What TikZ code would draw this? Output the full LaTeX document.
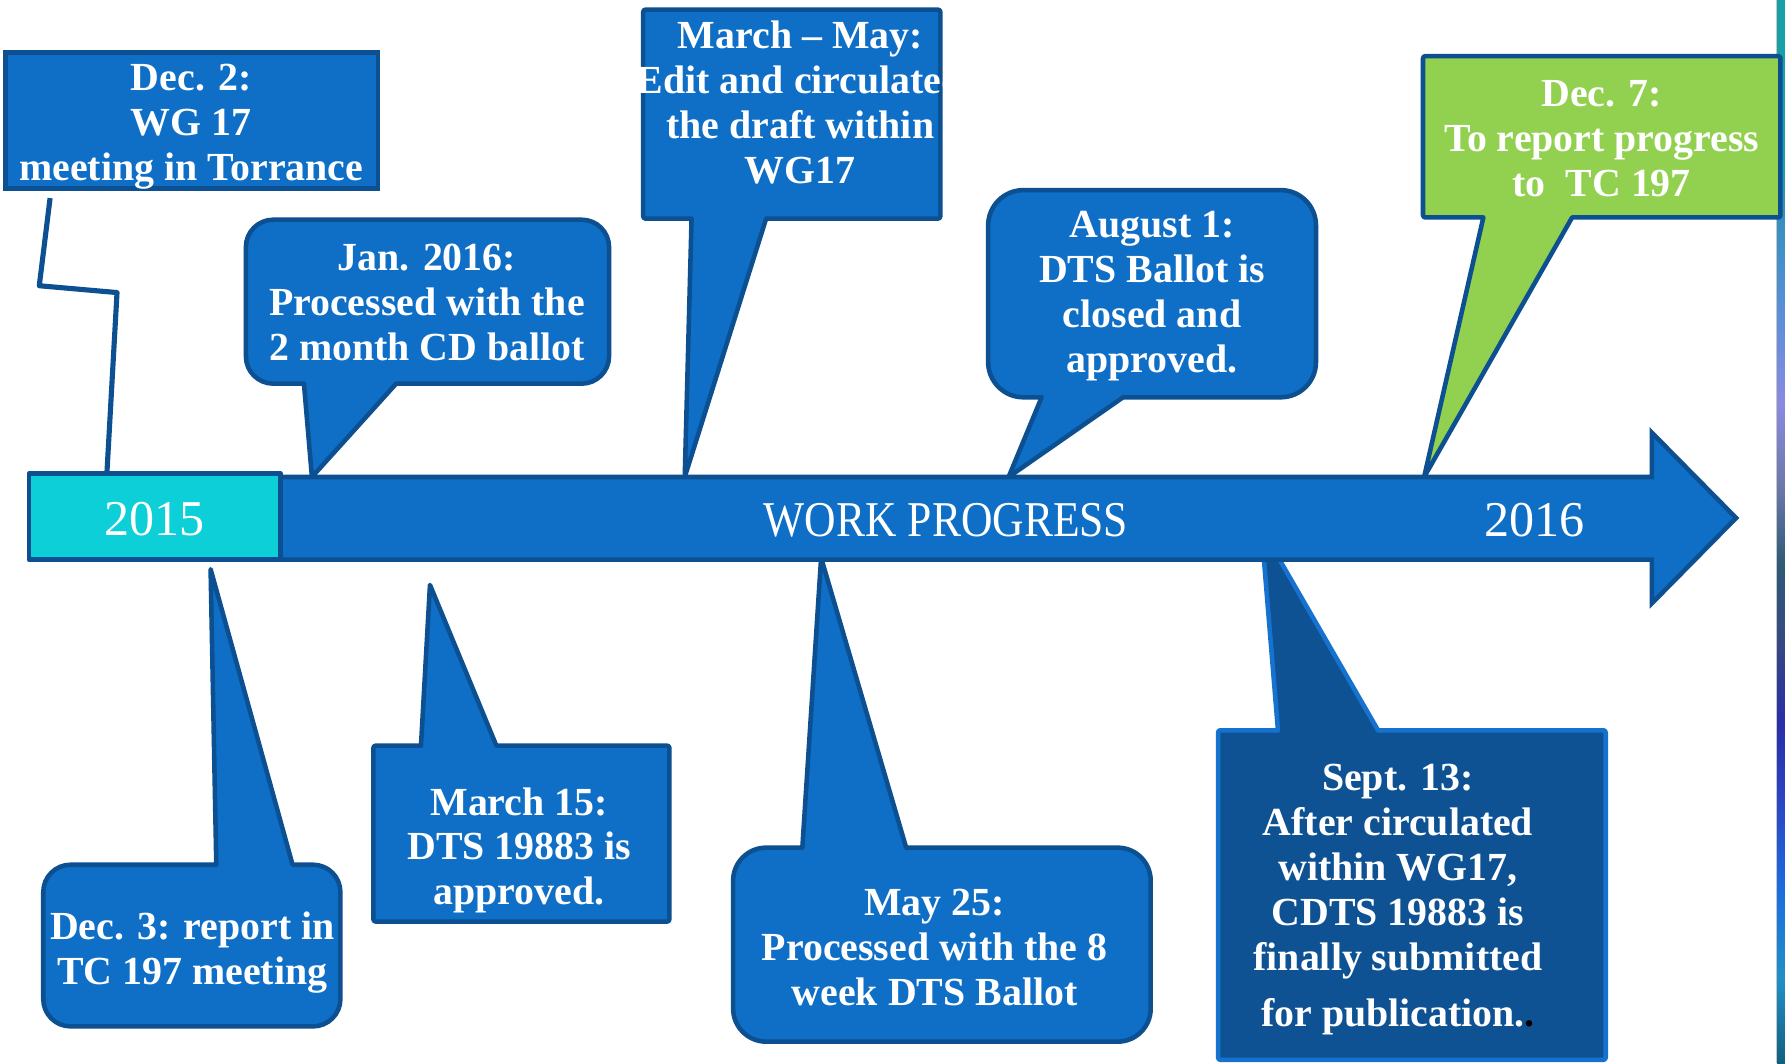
\documentclass[tikz,border=0pt]{standalone}
\usepackage{fontspec}
\setmainfont{Liberation Serif}
\usepackage{graphicx}
\definecolor{cfill}{HTML}{0F6FC6}
\definecolor{cline}{HTML}{0C5091}
\definecolor{cdark}{HTML}{0E5294}
\definecolor{clight}{HTML}{1672CF}
\definecolor{ccyan}{HTML}{0DCFD8}
\definecolor{cgreen}{HTML}{92D050}
\definecolor{sa}{HTML}{17A0A8}
\definecolor{sb}{HTML}{17A0A8}
\definecolor{sc}{HTML}{3590C0}
\definecolor{sd}{HTML}{5D8FD8}
\definecolor{se}{HTML}{8A8AE0}
\definecolor{sf}{HTML}{6A78A8}
\definecolor{sg}{HTML}{2F5A78}
\definecolor{sh}{HTML}{364A80}
\definecolor{si}{HTML}{2A2EA8}
\definecolor{sj}{HTML}{2A48C8}
\definecolor{sk}{HTML}{1A6FDE}
\definecolor{sl}{HTML}{2090C8}
\definecolor{sm}{HTML}{106080}
% rounded box with pointer below: x1,y1,x2,y2,r,baseL,baseR,tipx,tipy
\newcommand\RCdown[9]{\path[callout] (#1+#5,#2) -- (#3-#5,#2) arc(270:360:#5) -- (#3,#4-#5) arc(0:90:#5) -- (#7,#4) -- (#8,#9) -- (#6,#4) -- (#1+#5,#4) arc(90:180:#5) -- (#1,#2+#5) arc(180:270:#5) -- cycle;}
% rounded box with pointer above
\newcommand\RCup[9]{\path[callout] (#1+#5,#2) -- (#6,#2) -- (#8,#9) -- (#7,#2) -- (#3-#5,#2) arc(270:360:#5) -- (#3,#4-#5) arc(0:90:#5) -- (#1+#5,#4) arc(90:180:#5) -- (#1,#2+#5) arc(180:270:#5) -- cycle;}
\begin{document}
\begin{tikzpicture}[x=1pt,y=-1pt,
  callout/.style={fill=cfill,draw=cline,line width=4pt,line join=round},
  btxt/.style={text=white,font=\bfseries\fontsize{35}{39.5}\selectfont,align=center,inner sep=0pt},
  axtxt/.style={text=white,font=\fontsize{44}{50}\selectfont,inner sep=0pt},
  barstyle/.style={fill=cfill,draw=cline,line width=4pt,line join=miter},
  leader/.style={draw=cline,line width=4.5pt,line join=round}]
\useasboundingbox (0,0) rectangle (1568,934);
\fill[white] (0,0) rectangle (1568,934);
% right edge strip
\foreach \ya/\yb/\ca/\cb in {0/150/sa/sb,150/190/sb/sc,190/280/sc/sd,280/355/sd/se,355/430/se/sf,430/495/sf/sg,495/560/sg/sh,560/635/sh/si,635/710/si/sj,710/785/sj/sk,785/860/sk/sl,860/934/sl/sm}
  {\shade[top color=\ca,bottom color=\cb] (1561,\ya) rectangle (1568,\yb);}
\draw[black!22,line width=1pt] (1560.5,0) -- (1560.5,934);
% leader line of Dec. 2
\coordinate (l0) at (44,174);
\coordinate (l1) at (34.5,251);
\coordinate (l2) at (102.8,257);
\coordinate (l3) at (94,414);
\draw[leader] (l0) -- (l1) -- (l2) -- (l3);
% callouts above the bar
\path[callout,line join=miter] (5,46) rectangle (332,165.5);
\RCdown{216}{193}{535}{337}{24}{267}{348}{274}{419}
\RCdown{565}{8.5}{826}{192}{2}{607.5}{673}{601.5}{419}
\RCdown{868}{167}{1156}{349}{31}{915}{986.5}{886}{419}
\begin{scope}[callout/.append style={fill=cgreen}]
\RCdown{1250}{49.3}{1564}{191}{2}{1303}{1381}{1251}{419}
\end{scope}
% callouts below the bar
\RCup{38}{759.6}{299}{901.6}{24}{190}{257}{185}{500}
\RCup{328}{655}{588}{809.5}{2}{369.8}{436}{377.7}{513.8}
\RCup{644}{744.6}{1010.8}{915}{29}{704.8}{796}{721.3}{490}
\begin{scope}[callout/.append style={fill=cdark,draw=clight}]
\RCup{1070}{641.5}{1410.5}{931}{2}{1122.6}{1210.5}{1108}{464}
\end{scope}
% timeline arrow
\path[barstyle] (30,419) -- (1451,419) -- (1451,380) -- (1525,455) -- (1451,530) -- (1451,491.5) -- (30,491.5) -- cycle;
\path[barstyle,fill=ccyan,line join=round] (25.5,416) rectangle (246.6,491.7);
% axis texts
\node[axtxt] (y15) at (136,456) {2015};
\node[axtxt] (wp) at (831,457) {\scalebox{0.87}[1]{WORK PROGRESS}};
\node[axtxt] (y16) at (1348,457) {2016};
% callout texts
\node[btxt] (t1) at (168,111) {Dec. 2:\\WG 17\\meeting in Torrance};
\node[btxt] (t2) at (375,266) {Jan. 2016:\\Processed with the\\2 month CD ballot};
\begin{scope}
\clip (563,6) rectangle (830,194);
\node[btxt] (t3) at (703,90) {March – May:\\Edit and circulated\\the draft within\\WG17};
\end{scope}
\node[btxt] (t4) at (1012,260) {August 1:\\DTS Ballot is\\closed and\\approved.};
\node[btxt] (t5) at (1407,122) {Dec. 7:\\To report progress\\to\ \ TC 197};
\node[btxt] (t6) at (169,837) {Dec. 3: report in\\TC 197 meeting};
\node[btxt] (t7) at (456,747) {March 15:\\DTS 19883 is\\approved.};
\node[btxt] (t8) at (821,832) {May 25:\\Processed with the 8\\week DTS Ballot};
\node[btxt] (t9) at (1228,790) {Sept. 13:\\After circulated\\within WG17,\\CDTS 19883 is\\finally submitted\\[10pt]for publication.\textcolor{black}{.}};
\end{tikzpicture}
\end{document}
